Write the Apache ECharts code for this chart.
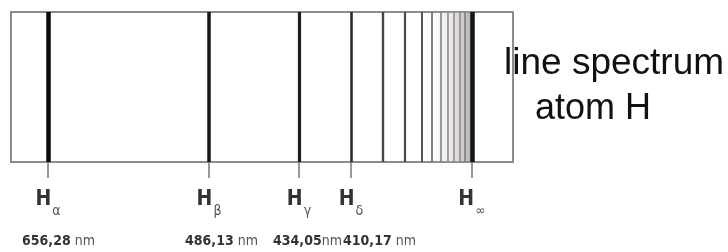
<!DOCTYPE html>
<html>
<head>
<meta charset="utf-8">
<script src="https://cdn.jsdelivr.net/npm/echarts@6/dist/echarts.min.js"></script>
<style>
  html, body { margin: 0; padding: 0; background: #fff; }
  #chart { width: 728px; height: 252px; }
</style>
</head>
<body>
<div id="chart"></div>
<script>
// positions of the lines along the plate, in % of the plate width
const linePos = [7.37, 39.44, 57.37, 67.73, 74.1, 78.49, 81.77, 83.86, 85.66, 87.05, 88.25, 89.34, 90.44, 91.83];
// labelled lines
const labelPos = [7.37, 39.44, 57.37, 67.73, 91.83];
const labelSub = ['α', 'β', 'γ', 'δ', '∞'];
const labelWave = ['656,28', '486,13', '434,05', '410,17', ''];
const titleLines = ['line spectrum', 'atom H'];

const narrow = "'Liberation Sans Narrow', 'DejaVu Sans Condensed', 'Liberation Sans', sans-serif";

const lineStyleFor = (i, n) => {
    if (i === n - 1) return { color: '#151515', width: 4.5, type: 'solid' };
    const widths = [4.5, 3.5, 3.2, 2.6, 2.4, 2.2, 2, 1.8, 1.6, 1.6, 1.5, 1.5, 1.5];
    const colors = ['#0d0d0d', '#161616', '#1e1e1e', '#2c2c2c', '#444', '#4a4a4a', '#555', '#707070', '#808080', '#8c8c8c', '#8a8a8a', '#858585', '#7a7a7a'];
    return { color: colors[i], width: widths[i], type: 'solid' };
};

const waveStyle = (pad) => ({
    fontFamily: narrow, fontSize: 14, fontWeight: 'bold', color: '#333', lineHeight: 46, padding: [0, 0, 0, pad]
});

const chart = echarts.init(document.getElementById('chart'));

chart.setOption({
    animation: false,
    backgroundColor: '#fff',
    title: [
        { text: titleLines[0], left: 504, top: 45, padding: 0,
          textStyle: { fontFamily: "'Liberation Sans', Arial, sans-serif", fontSize: 37, fontWeight: 'normal', color: '#111', lineHeight: 37 } },
        { text: titleLines[1], left: 535, top: 91, padding: 0,
          textStyle: { fontFamily: "'Liberation Sans', Arial, sans-serif", fontSize: 36, fontWeight: 'normal', color: '#111', lineHeight: 36 } }
    ],
    grid: {
        left: 11, top: 12, width: 502, height: 150,
        outerBoundsMode: 'none', containLabel: false,
        show: true, borderColor: '#8c8c8c', borderWidth: 2, backgroundColor: '#fff'
    },
    xAxis: {
        type: 'value', min: 0, max: 100,
        splitLine: { show: false },
        axisLine: { show: true, lineStyle: { color: '#8c8c8c', width: 2 } },
        axisTick: { show: true, customValues: labelPos, length: 16, lineStyle: { color: '#777', width: 1.5 } },
        axisLabel: {
            show: true,
            customValues: labelPos,
            margin: 20,
            hideOverlap: false,
            formatter: (value) => {
                let i = 0;
                labelPos.forEach((p, k) => { if (Math.abs(p - value) < 0.01) i = k; });
                let s = '{h|H}{s|' + labelSub[i] + '}';
                if (labelWave[i]) {
                    const ws = ['wa', 'wb', 'wc', 'wd'][i];
                    const nm = i === 2 ? 'nm' : ' nm';
                    s += '\n{' + ws + '|' + labelWave[i] + '}{nm|' + nm + '}';
                } else {
                    s += '\n{nm| }';
                }
                return s;
            },
            rich: {
                h: { fontFamily: narrow, fontSize: 21, fontWeight: 'bold', color: '#333', lineHeight: 36 },
                s: { fontFamily: narrow, fontSize: 14, color: '#555', lineHeight: 14, verticalAlign: 'bottom', padding: [0, 0, 0, 1] },
                wa: waveStyle(21),
                wb: waveStyle(25),
                wc: waveStyle(17),
                wd: waveStyle(57),
                nm: { fontFamily: narrow, fontSize: 14, color: '#555', lineHeight: 46 }
            }
        }
    },
    yAxis: { type: 'value', min: 0, max: 1, show: false },
    series: [{
        type: 'line',
        data: [],
        silent: true,
        markArea: {
            silent: true,
            itemStyle: {
                color: new echarts.graphic.LinearGradient(0, 0, 1, 0, [
                    { offset: 0, color: 'rgba(210,210,210,0.05)' },
                    { offset: 0.5, color: 'rgba(190,180,190,0.35)' },
                    { offset: 1, color: 'rgba(150,140,150,0.7)' }
                ])
            },
            data: [[{ xAxis: linePos[7] }, { xAxis: linePos[linePos.length - 1] }]]
        },
        markLine: {
            silent: true,
            symbol: ['none', 'none'],
            label: { show: false },
            data: linePos.map((p, i) => ({ xAxis: p, lineStyle: lineStyleFor(i, linePos.length) }))
        }
    }]
});
</script>
</body>
</html>
